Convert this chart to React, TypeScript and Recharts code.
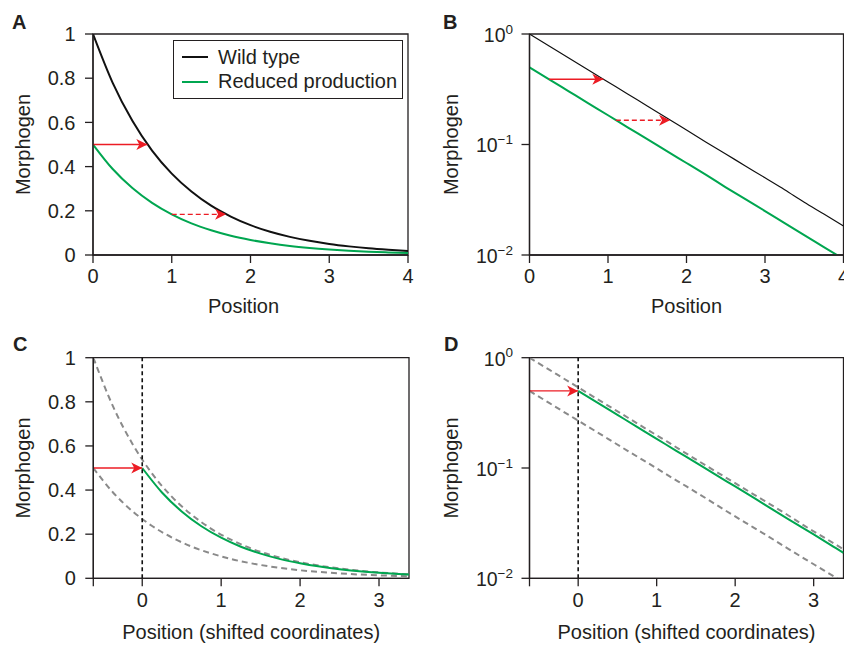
import React from "react";
import { LineChart, Line, XAxis, YAxis, ReferenceLine, ReferenceArea, Legend } from "recharts";

const FONT = '"Liberation Sans", Arial, Helvetica, sans-serif';
const INK = "#231f20";
const GREEN = "#00a650";
const RED = "#ec1c24";
const GRAY = "#8a8a8a";

const positions = [0, 0.25, 0.5, 0.75, 1, 1.25, 1.5, 1.75, 2, 2.25, 2.5, 2.75, 3, 3.25, 3.5, 3.75, 4];
const wildType = [1, 0.779, 0.607, 0.472, 0.368, 0.287, 0.223, 0.174, 0.135, 0.105, 0.082, 0.064, 0.05, 0.039, 0.03, 0.0235, 0.0183];
const reducedProduction = [0.5, 0.389, 0.303, 0.236, 0.184, 0.143, 0.112, 0.087, 0.068, 0.053, 0.041, 0.032, 0.025, 0.0194, 0.0151, 0.0118, 0.0092];

// panels C/D, shifted coordinates
const shiftedPositions = [-0.62, -0.37, -0.12, 0.13, 0.38, 0.63, 0.88, 1.13, 1.38, 1.63, 1.88, 2.13, 2.38, 2.63, 2.88, 3.13, 3.38];
const greenShiftedPositions = [0, 0.25, 0.5, 0.75, 1, 1.25, 1.5, 1.75, 2, 2.25, 2.5, 2.75, 3, 3.25, 3.38];
const greenShifted = [0.5, 0.389, 0.303, 0.236, 0.184, 0.143, 0.112, 0.087, 0.068, 0.053, 0.041, 0.032, 0.025, 0.0194, 0.017];

// arrows: [startX, endX, level]
const arrowASolid = [0, 0.69, 0.5];
const arrowADashed = [1, 1.69, 0.184];
const arrowBSolid = [0.25, 0.94, 0.389];
const arrowBDashed = [1.1, 1.79, 0.166];
const arrowShift = [-0.62, 0, 0.5];

const legendNames = ["Wild type", "Reduced production"];
const linearTicks = [0, 0.2, 0.4, 0.6, 0.8, 1];
const logTicks = [0.01, 0.1, 1];
const positionTicks = [0, 1, 2, 3, 4];
const shiftedTicks = [-0.62, 0, 1, 2, 3];

const pairs = (xs: number[], ys: number[]) => xs.map((x, i) => ({ x, y: ys[i] }));
const arrowData = (a: number[]) => [{ x: a[0], y: a[2] }, { x: a[1], y: a[2] }];

const TICK_SIZE = 20;
const LABEL_SIZE = 20;

const arrowHead = (props: any) => {
  const { cx, cy, index } = props;
  if (index !== 1 || cx == null) return <g key={`n${index}`} />;
  return (
    <path
      key={`h${index}`}
      d={`M${cx},${cy} L${cx - 11},${cy - 5.5} L${cx - 8},${cy} L${cx - 11},${cy + 5.5} Z`}
      fill={RED}
    />
  );
};

const LogTick = (props: any) => {
  const { x, y, payload } = props;
  const e = Math.round(Math.log10(payload.value));
  return (
    <text x={x + 1} y={y} textAnchor="end" fill={INK} fontFamily={FONT} fontSize={19.5} dy="0.4em">
      <tspan>10</tspan>
      <tspan fontSize={13.5} dy="-0.6em">{e === 0 ? "0" : `\u2212${-e}`}</tspan>
    </text>
  );
};

const LegendBox = (props: any) => {
  const entries = legendNames
    .map((n) => (props.payload || []).find((e: any) => e.value === n))
    .filter(Boolean);
  return (
    <div
      style={{
        border: `1.5px solid ${INK}`,
        background: "#fff",
        padding: "4px 0 3px 0",
        fontFamily: FONT,
        fontSize: LABEL_SIZE,
        color: INK,
        boxSizing: "border-box",
        width: 230,
        height: 59,
      }}
    >
      {entries.map((entry: any) => (
        <div key={entry.value} style={{ display: "flex", alignItems: "center", height: 24.6 }}>
          <span style={{ width: 26, height: 0, borderTop: `2px solid ${entry.color}`, marginLeft: 8, marginRight: 10 }} />
          <span>{entry.value}</span>
        </div>
      ))}
    </div>
  );
};

function arrowLines(a: number[], dashed: boolean, key: string) {
  return (
    <Line
      key={key}
      data={arrowData(a)}
      dataKey="y"
      type="linear"
      stroke={RED}
      strokeWidth={1.4}
      strokeDasharray={dashed ? "5 3" : undefined}
      dot={arrowHead}
      activeDot={false}
      legendType="none"
      isAnimationActive={false}
    />
  );
}

type PanelProps = {
  left: number;
  top: number;
  width: number;
  height: number;
  plotTop: number;
  plotBottom: number;
  yWidth: number;
  right: number;
  log: boolean;
  xDomain: number[];
  xTicks: number[];
  xLabel: string;
  labelDx?: number;
  children?: React.ReactNode;
};

function Panel(p: PanelProps) {
  const yDomain = p.log ? [0.01, 1] : [0, 1];
  return (
    <div style={{ position: "absolute", left: p.left, top: p.top }}>
      <LineChart width={p.width} height={p.height} margin={{ top: p.plotTop, right: p.right, bottom: 0, left: 0 }}>
        <XAxis
          type="number"
          dataKey="x"
          domain={p.xDomain}
          ticks={p.xTicks}
          interval={0}
          allowDataOverflow
          height={p.height - p.plotBottom}
          stroke={INK}
          strokeWidth={1.3}
          tickSize={8}
          tickMargin={6}
          tick={{ fill: INK, fontSize: TICK_SIZE, fontFamily: FONT }}
          tickFormatter={(v: number) => (v < 0 ? "" : String(v))}
          label={{
            value: p.xLabel,
            position: "insideBottom",
            offset: 7,
            dx: p.labelDx || 0,
            fill: INK,
            fontSize: LABEL_SIZE,
            fontFamily: FONT,
          }}
        />
        <YAxis
          type="number"
          dataKey="y"
          scale={p.log ? "log" : "linear"}
          domain={yDomain}
          ticks={p.log ? logTicks : linearTicks}
          interval={0}
          allowDataOverflow
          width={p.yWidth}
          stroke={INK}
          strokeWidth={1.3}
          tickSize={8}
          tickMargin={9.5}
          tick={p.log ? <LogTick /> : { fill: INK, fontSize: TICK_SIZE, fontFamily: FONT }}
          label={{
            value: "Morphogen",
            angle: -90,
            position: "center",
            dx: -23.5,
            fill: INK,
            fontSize: LABEL_SIZE,
            fontFamily: FONT,
          }}
        />
        <ReferenceArea
          x1={p.xDomain[0]}
          x2={p.xDomain[1]}
          y1={yDomain[0]}
          y2={yDomain[1]}
          fill="none"
          fillOpacity={0}
          stroke={INK}
          strokeWidth={1.3}
          strokeOpacity={1}
        />
        {p.children}
      </LineChart>
    </div>
  );
}

const letterStyle = (left: number, top: number): React.CSSProperties => ({
  position: "absolute",
  left,
  top,
  fontFamily: FONT,
  fontWeight: "bold",
  fontSize: 20,
  lineHeight: 1,
  color: INK,
});

function profileLines(strokeWt: number) {
  return [
    <Line
      key="wt"
      name="Wild type"
      data={pairs(positions, wildType)}
      dataKey="y"
      type="monotone"
      stroke="#111"
      strokeWidth={strokeWt}
      dot={false}
      activeDot={false}
      isAnimationActive={false}
    />,
    <Line
      key="rp"
      name="Reduced production"
      data={pairs(positions, reducedProduction)}
      dataKey="y"
      type="monotone"
      stroke={GREEN}
      strokeWidth={2}
      dot={false}
      activeDot={false}
      isAnimationActive={false}
    />,
  ];
}

function shiftedLines() {
  return [
    <Line
      key="up"
      data={pairs(shiftedPositions, wildType)}
      dataKey="y"
      type="monotone"
      stroke={GRAY}
      strokeWidth={2}
      strokeDasharray="6 4"
      dot={false}
      activeDot={false}
      legendType="none"
      isAnimationActive={false}
    />,
    <Line
      key="lo"
      data={pairs(shiftedPositions, reducedProduction)}
      dataKey="y"
      type="monotone"
      stroke={GRAY}
      strokeWidth={2}
      strokeDasharray="6 4"
      dot={false}
      activeDot={false}
      legendType="none"
      isAnimationActive={false}
    />,
    <Line
      key="gr"
      data={pairs(greenShiftedPositions, greenShifted)}
      dataKey="y"
      type="monotone"
      stroke={GREEN}
      strokeWidth={2}
      dot={false}
      activeDot={false}
      legendType="none"
      isAnimationActive={false}
    />,
    <ReferenceLine key="v0" x={0} stroke="#111" strokeWidth={1.6} strokeDasharray="4 3" />,
  ];
}

export default function App() {
  return (
    <div
      style={{
        position: "absolute",
        left: 0,
        top: 0,
        width: 844,
        height: 646,
        overflow: "hidden",
        background: "#fff",
      }}
    >
      <Panel
        left={0}
        top={0}
        width={420}
        height={320}
        plotTop={34}
        plotBottom={255}
        yWidth={93}
        right={12}
        log={false}
        xDomain={[0, 4]}
        xTicks={positionTicks}
        xLabel="Position"
        labelDx={-7}
      >
        {[
          ...profileLines(2),
          arrowLines(arrowASolid, false, "as"),
          arrowLines(arrowADashed, true, "ad"),
          <Legend
            key="lg"
            layout="vertical"
            align="center"
            verticalAlign="middle"
            content={LegendBox}
            wrapperStyle={{ left: 173, top: 40, width: 230, height: 59 }}
          />,
        ]}
      </Panel>

      <Panel
        left={420}
        top={0}
        width={424}
        height={320}
        plotTop={34}
        plotBottom={255}
        yWidth={109.5}
        right={0.5}
        log={true}
        xDomain={[0, 4]}
        xTicks={positionTicks}
        xLabel="Position"
      >
        {[
          ...profileLines(1.2),
          arrowLines(arrowBSolid, false, "bs"),
          arrowLines(arrowBDashed, true, "bd"),
        ]}
      </Panel>

      <Panel
        left={0}
        top={320}
        width={420}
        height={326}
        plotTop={37.7}
        plotBottom={258.3}
        yWidth={93.3}
        right={11}
        log={false}
        xDomain={[-0.62, 3.38]}
        xTicks={shiftedTicks}
        xLabel="Position (shifted coordinates)"
      >
        {[...shiftedLines(), arrowLines(arrowShift, false, "cs")]}
      </Panel>

      <Panel
        left={420}
        top={320}
        width={424}
        height={326}
        plotTop={37.7}
        plotBottom={258.3}
        yWidth={109.5}
        right={0.5}
        log={true}
        xDomain={[-0.62, 3.38]}
        xTicks={shiftedTicks}
        xLabel="Position (shifted coordinates)"
      >
        {[...shiftedLines(), arrowLines(arrowShift, false, "ds")]}
      </Panel>

      <div style={letterStyle(12, 12)}>A</div>
      <div style={letterStyle(443, 12)}>B</div>
      <div style={letterStyle(13, 334)}>C</div>
      <div style={letterStyle(444, 334)}>D</div>
    </div>
  );
}
